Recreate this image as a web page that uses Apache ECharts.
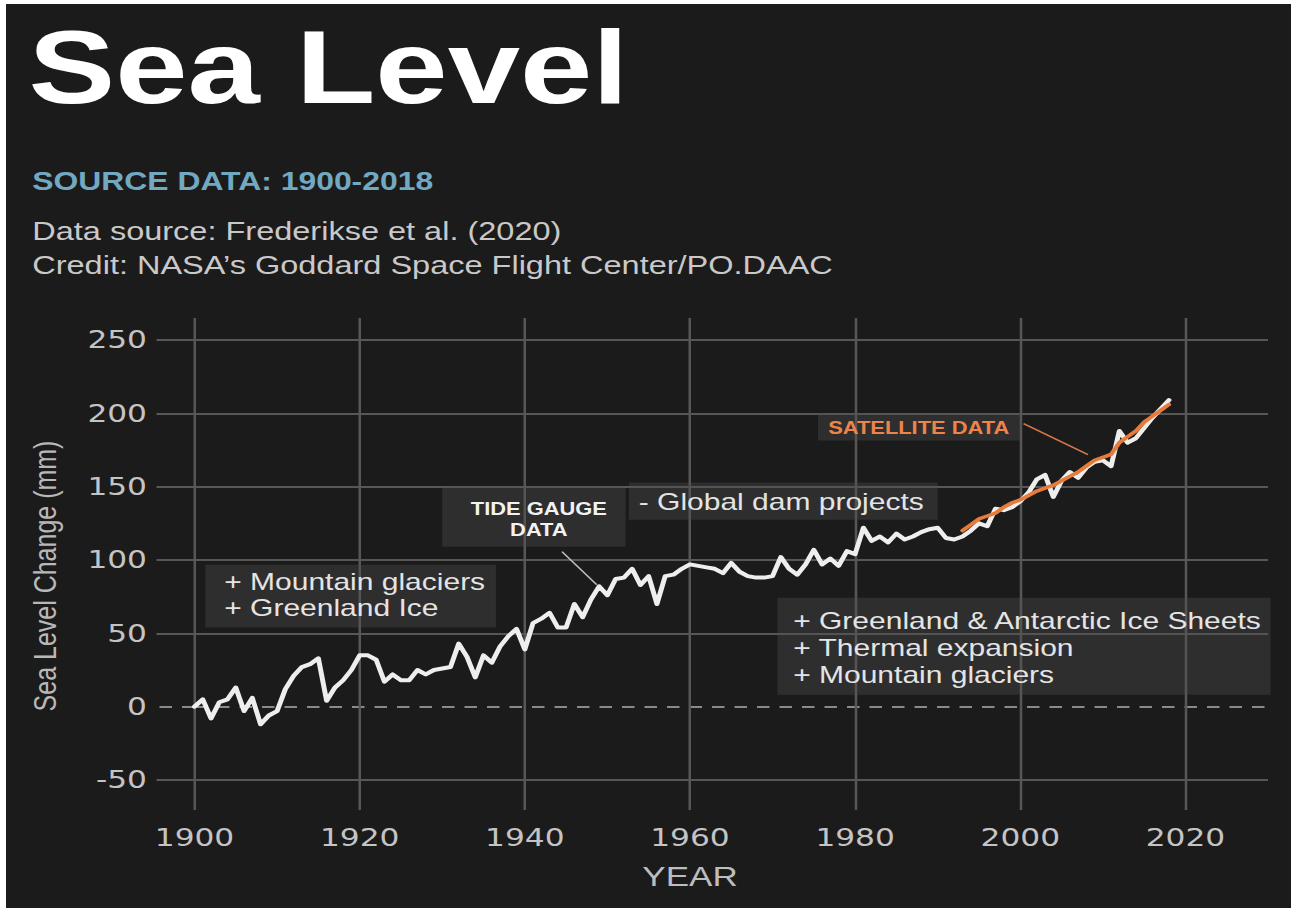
<!DOCTYPE html>
<html><head><meta charset="utf-8">
<script src="https://cdn.jsdelivr.net/npm/echarts@6/dist/echarts.min.js"></script>
<style>
html,body{margin:0;padding:0;background:#ffffff;width:1299px;height:912px;overflow:hidden;}
#wrap{position:absolute;left:6px;top:4px;width:1285px;height:904px;background:#1c1b1c;overflow:hidden;}
#chart{position:absolute;left:0;top:0;width:1028px;height:904px;transform:scaleX(1.25);transform-origin:0 0;}
</style></head><body>
<div id="wrap"><div id="chart"></div></div>
<script>
// ---- data ----
const tideYears = [1900,1901,1902,1903,1904,1905,1906,1907,1908,1909,
1910,1911,1912,1913,1914,1915,1916,1917,1918,1919,
1920,1921,1922,1923,1924,1925,1926,1927,1928,1929,
1930,1931,1932,1933,1934,1935,1936,1937,1938,1939,
1940,1941,1942,1943,1944,1945,1946,1947,1948,1949,
1950,1951,1952,1953,1954,1955,1956,1957,1958,1959,
1960,1961,1962,1963,1964,1965,1966,1967,1968,1969,
1970,1971,1972,1973,1974,1975,1976,1977,1978,1979,
1980,1981,1982,1983,1984,1985,1986,1987,1988,1989,
1990,1991,1992,1993,1994,1995,1996,1997,1998,1999,
2000,2001,2002,2003,2004,2005,2006,2007,2008,2009,
2010,2011,2012,2013,2014,2015,2016,2017,2018];
const tideValues = [0,5,-8,3,5,13,-3,6,-12,-6,
-3,12,21,27,29,33,4,13,18,25,
35,35,32,17,22,18,18,25,22,25,
26,27,43,34,20,35,30,41,48,53,
39,57,60,64,54,54,70,61,73,82,
76,87,88,94,83,89,70,89,90,94,
97,96,95,94,91,98,92,89,88,88,
89,102,94,90,97,107,97,101,96,106,
104,122,113,116,112,118,114,116,119,121,
122,115,114,116,120,125,123,135,134,136,
140,146,155,158,143,154,160,156,163,167,
168,164,188,180,183,190,197,203,209];
const satYears = [1993,1994,1995,1996,1997,1998,1999,2000,2001,2002,
2003,2004,2005,2006,2007,2008,2009,2010,2011,2012,
2013,2014,2015,2016,2017,2018];
const satValues = [120,124,128,130,132,136,139,141,144,147,
149,151,154,157,160,164,168,170,172,180,
184,188,194,198,202,206];
const xTicks = [1900,1920,1940,1960,1980,2000,2020];
const yTicks = [-50,0,50,100,150,200,250];

// ---- chart ----
const chart = echarts.init(document.getElementById('chart'), null, {renderer:'svg'});
const gridCol = '#575757';
const labelFont = 'Liberation Sans, Arial, sans-serif';
const tickFont = 'DejaVu Sans, Liberation Sans, sans-serif';
const tidePairs = tideYears.map((y,i)=>[y, tideValues[i]]);
const satPairs = satYears.map((y,i)=>[y, satValues[i]]);

const option = {
  backgroundColor: 'transparent',
  animation: false,
  grid: {left: 150.8, right: 18.4, top: 314, bottom: 128},
  xAxis: {
    type: 'value', min: 1900, max: 2030,
    axisLine: {show: false, onZero: false},
    axisTick: {show: true, length: 30, customValues: xTicks, lineStyle: {color: gridCol, width: 2}},
    axisLabel: {customValues: xTicks, formatter: v => String(v), color: '#c4c4c4', fontSize: 25, margin: 45, fontFamily: tickFont},
    splitLine: {show: true, lineStyle: {color: gridCol, width: 2}}
  },
  yAxis: [{
    type: 'value', min: -50, max: 265, position: 'left',
    axisLine: {show: false, onZero: false},
    axisTick: {show: true, length: 30.4, customValues: yTicks.filter(v => v !== 0), lineStyle: {color: gridCol, width: 2}},
    axisLabel: {customValues: yTicks, formatter: v => String(v), color: '#c4c4c4', fontSize: 25, margin: 38, fontFamily: tickFont},
    splitLine: {show: true, lineStyle: {color: gridCol, width: 2}}
  }, {
    type: 'value', min: -50, max: 265, position: 'left',
    axisLine: {show: false, onZero: false},
    axisTick: {show: true, length: 30.4, customValues: [0], lineStyle: {color: '#8a8a8a', width: 2, type: [10, 8]}},
    axisLabel: {show: false},
    splitLine: {show: true, lineStyle: {color: '#8a8a8a', width: 2, type: [10, 8]}}
  }],
  series: [{
    name: 'Tide gauge', type: 'line', data: tidePairs, showSymbol: false, z: 3,
    lineStyle: {color: '#eeeeee', width: 4, join: 'round', cap: 'round'}
  }, {
    name: 'Satellite', type: 'line', data: satPairs, showSymbol: false, z: 4,
    lineStyle: {color: '#e77c3a', width: 3.5, join: 'round', cap: 'round'}
  }]
};
chart.setOption(option);

const P = (x, y) => chart.convertToPixel({gridIndex: 0}, [x, y]);
const boxFill = 'rgba(78,78,78,0.38)';
function box(x1, y1, x2, y2) {
  const a = P(x1, y1), b = P(x2, y2);
  return {type: 'rect', shape: {x: a[0], y: a[1], width: b[0] - a[0], height: b[1] - a[1]}, style: {fill: boxFill}, z: 5};
}
function txt(x, y, text, style) {
  const a = P(x, y);
  return {type: 'text', x: a[0], y: a[1], style: Object.assign({text: text, fontFamily: labelFont, verticalAlign: 'middle'}, style), z: 6};
}
function seg(x1, y1, x2, y2, color) {
  const a = P(x1, y1), b = P(x2, y2);
  return {type: 'line', shape: {x1: a[0], y1: a[1], x2: b[0], y2: b[1]}, style: {stroke: color, lineWidth: 1.5}, z: 6};
}
const annText = {fill: '#e4e4e4', fontSize: 24, align: 'left'};
const graphics = [
  // title block
  {type: 'text', x: 18, y: 63, style: {text: 'Sea Level', fill: '#ffffff', fontSize: 104, fontWeight: 'bold', fontFamily: labelFont, verticalAlign: 'middle'}},
  {type: 'text', x: 21, y: 177, style: {text: 'SOURCE DATA: 1900-2018', fill: '#72a9c2', fontSize: 25.5, fontWeight: 'bold', fontFamily: labelFont, verticalAlign: 'middle'}},
  {type: 'text', x: 21, y: 227, style: {text: 'Data source: Frederikse et al. (2020)', fill: '#c9c9c9', fontSize: 26, fontFamily: labelFont, verticalAlign: 'middle'}},
  {type: 'text', x: 21, y: 261, style: {text: 'Credit: NASA\u2019s Goddard Space Flight Center/PO.DAAC', fill: '#c9c9c9', fontSize: 26, fontFamily: labelFont, verticalAlign: 'middle'}},
  // axis titles
  {type: 'text', x: 31.2, y: 572, rotation: Math.PI / 2, style: {text: 'Sea Level Change (mm)', fill: '#b8b8b8', fontSize: 25, fontFamily: labelFont, align: 'center', verticalAlign: 'middle'}},
  {type: 'text', x: 547.2, y: 872, style: {text: 'YEAR', fill: '#bdbdbd', fontSize: 28, fontFamily: labelFont, align: 'center', verticalAlign: 'middle'}},
  // annotation: mountain glaciers
  box(1901.3, 96.8, 1936.5, 53.9),
  txt(1903.6, 85.3, '+ Mountain glaciers', annText),
  txt(1903.6, 67.5, '+ Greenland Ice', annText),
  // tide gauge
  box(1930.0, 149.4, 1952.2, 109.1),
  txt(1941.7, 135, 'TIDE GAUGE', {fill: '#f2f2f2', fontSize: 17.5, fontWeight: 'bold', align: 'center'}),
  txt(1941.7, 120.7, 'DATA', {fill: '#f2f2f2', fontSize: 17.5, fontWeight: 'bold', align: 'center'}),
  seg(1944.5, 105.7, 1948.7, 83.2, '#bdbdbd'),
  // dams
  box(1952.6, 152.8, 1990.0, 127.5),
  txt(1953.8, 139.8, '- Global dam projects', annText),
  // satellite
  box(1975.5, 199.8, 2000.0, 181.4),
  txt(1987.7, 190.3, 'SATELLITE DATA', {fill: '#ee8448', fontSize: 17.5, fontWeight: 'bold', align: 'center'}),
  seg(2000.4, 193, 2008.2, 171.9, '#d9794a'),
  // ice sheets
  box(1970.6, 74.3, 2030.3, 8.2),
  txt(1972.5, 58.7, '+ Greenland & Antarctic Ice Sheets', annText),
  txt(1972.5, 40.2, '+ Thermal expansion', annText),
  txt(1972.5, 21.8, '+ Mountain glaciers', annText)
];
chart.setOption({graphic: graphics});
</script>
</body></html>
